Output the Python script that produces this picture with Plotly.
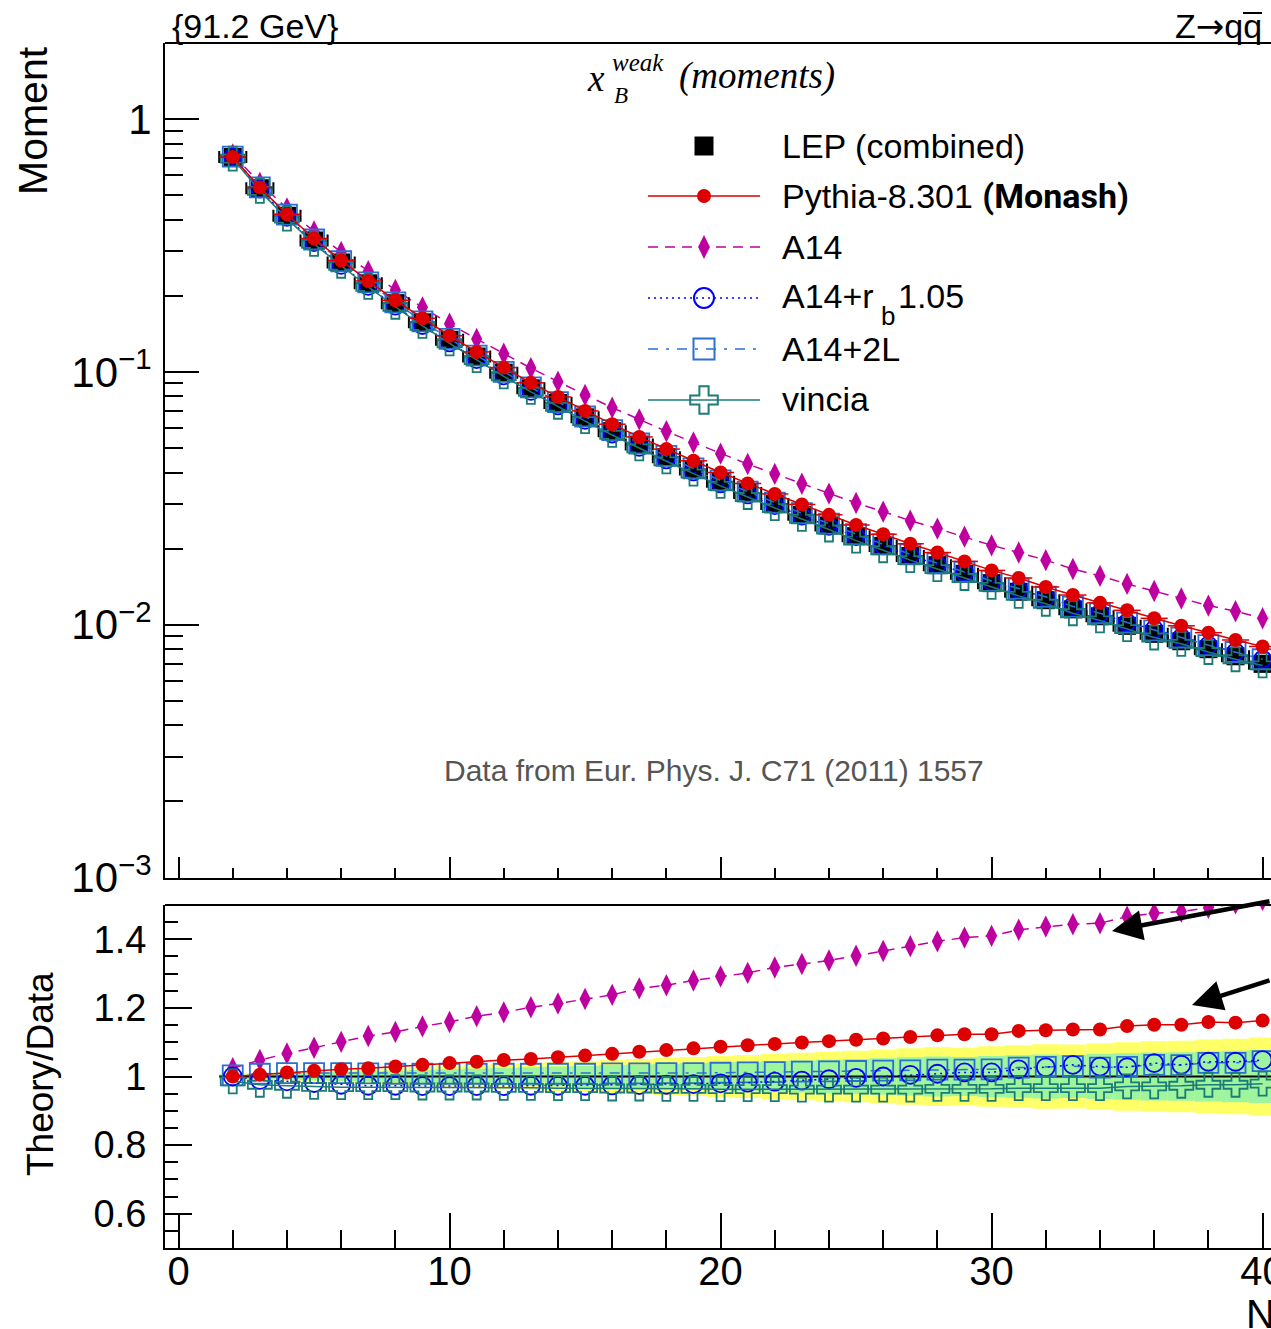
import plotly.graph_objects as go

# ---------------- data ----------------
N = list(range(2, 41))

lep = [0.708, 0.533, 0.415, 0.331, 0.271, 0.224, 0.187, 0.157, 0.134, 0.115,
       0.0993, 0.0861, 0.0754, 0.0661, 0.0583, 0.0516, 0.0460, 0.0411, 0.0368, 0.0332,
       0.0300, 0.0272, 0.0247, 0.0224, 0.0205, 0.0187, 0.0172, 0.0159, 0.0146, 0.0135,
       0.0125, 0.0115, 0.0108, 0.0099, 0.0092, 0.0086, 0.0080, 0.0075, 0.0070]

pythia = [0.708, 0.536, 0.420, 0.337, 0.276, 0.229, 0.192, 0.163, 0.139, 0.120,
          0.104, 0.0905, 0.0796, 0.0701, 0.0621, 0.0553, 0.0495, 0.0445, 0.0400, 0.0362,
          0.0329, 0.0299, 0.0272, 0.0248, 0.0228, 0.0209, 0.0193, 0.0178, 0.0164, 0.0153,
          0.0141, 0.0131, 0.0122, 0.0114, 0.0106, 0.0099, 0.0093, 0.0087, 0.0082]

a14 = [0.725, 0.559, 0.443, 0.359, 0.298, 0.250, 0.211, 0.180, 0.155, 0.135,
       0.118, 0.1035, 0.0915, 0.0810, 0.0722, 0.0649, 0.0582, 0.0526, 0.0475, 0.0432,
       0.0395, 0.0361, 0.0330, 0.0303, 0.0280, 0.0258, 0.0240, 0.0223, 0.0206, 0.0193,
       0.0180, 0.0166, 0.0156, 0.0145, 0.0136, 0.0127, 0.0119, 0.0113, 0.0106]

a14_rb = [0.708, 0.528, 0.409, 0.325, 0.264, 0.218, 0.182, 0.1526, 0.1302, 0.1118,
          0.0965, 0.0838, 0.0734, 0.0643, 0.0568, 0.0503, 0.0449, 0.0402, 0.0361, 0.0326,
          0.0296, 0.0269, 0.0245, 0.0223, 0.0205, 0.0188, 0.0173, 0.0161, 0.0148, 0.0138,
          0.0128, 0.0119, 0.0111, 0.0102, 0.0096, 0.0089, 0.0083, 0.0078, 0.0073]

a14_2l = [0.710, 0.537, 0.419, 0.334, 0.274, 0.226, 0.1885, 0.1583, 0.1351, 0.1159,
          0.1001, 0.0868, 0.0760, 0.0666, 0.0588, 0.0521, 0.0465, 0.0415, 0.0372, 0.0336,
          0.0304, 0.0276, 0.0251, 0.0228, 0.0208, 0.0190, 0.0175, 0.0162, 0.0149, 0.0139,
          0.0129, 0.0118, 0.0111, 0.0102, 0.0095, 0.0089, 0.0083, 0.0078, 0.0073]

vincia = [0.698, 0.520, 0.404, 0.321, 0.263, 0.217, 0.181, 0.152, 0.1297, 0.1113,
          0.0960, 0.0833, 0.0728, 0.0639, 0.0563, 0.0498, 0.0443, 0.0396, 0.0354, 0.0320,
          0.0289, 0.0262, 0.0238, 0.0215, 0.0197, 0.0180, 0.0166, 0.0153, 0.0141, 0.0130,
          0.0121, 0.0111, 0.0104, 0.0096, 0.0089, 0.0084, 0.0078, 0.0073, 0.0069]

r_pythia = [1.000, 1.005, 1.012, 1.017, 1.021, 1.024, 1.029, 1.034, 1.039, 1.043,
            1.048, 1.051, 1.056, 1.061, 1.066, 1.072, 1.077, 1.082, 1.087, 1.091,
            1.095, 1.099, 1.103, 1.107, 1.111, 1.115, 1.120, 1.123, 1.123, 1.133,
            1.135, 1.137, 1.137, 1.147, 1.151, 1.151, 1.159, 1.157, 1.163]

r_a14 = [1.024, 1.048, 1.067, 1.084, 1.101, 1.118, 1.130, 1.146, 1.159, 1.176,
         1.187, 1.202, 1.213, 1.226, 1.238, 1.257, 1.266, 1.280, 1.292, 1.302,
         1.318, 1.328, 1.338, 1.352, 1.366, 1.380, 1.394, 1.405, 1.410, 1.428,
         1.437, 1.444, 1.447, 1.466, 1.476, 1.481, 1.492, 1.505, 1.515]

r_a14_rb = [1.000, 0.990, 0.986, 0.981, 0.976, 0.973, 0.973, 0.972, 0.972, 0.972,
            0.972, 0.973, 0.973, 0.973, 0.974, 0.975, 0.976, 0.978, 0.980, 0.982,
            0.985, 0.988, 0.992, 0.996, 1.000, 1.005, 1.008, 1.012, 1.012, 1.021,
            1.027, 1.034, 1.029, 1.027, 1.039, 1.034, 1.043, 1.043, 1.048]

r_a14_2l = [1.003, 1.008, 1.010, 1.010, 1.010, 1.009, 1.008, 1.008, 1.008, 1.008,
            1.008, 1.008, 1.008, 1.008, 1.009, 1.009, 1.010, 1.010, 1.011, 1.012,
            1.013, 1.014, 1.015, 1.016, 1.017, 1.018, 1.020, 1.020, 1.021, 1.026,
            1.028, 1.030, 1.026, 1.028, 1.034, 1.033, 1.040, 1.040, 1.045]

r_vincia = [0.986, 0.976, 0.973, 0.970, 0.969, 0.969, 0.969, 0.968, 0.968, 0.968,
            0.967, 0.967, 0.966, 0.966, 0.965, 0.965, 0.964, 0.964, 0.963, 0.963,
            0.963, 0.962, 0.962, 0.962, 0.962, 0.962, 0.964, 0.964, 0.964, 0.966,
            0.966, 0.966, 0.966, 0.971, 0.971, 0.973, 0.976, 0.976, 0.979]

# half-widths of the data uncertainty bands in the ratio panel
band_total = [0.008, 0.010, 0.012, 0.015, 0.018, 0.021, 0.024, 0.027, 0.030, 0.033,
              0.036, 0.039, 0.042, 0.045, 0.048, 0.051, 0.054, 0.057, 0.060, 0.063,
              0.066, 0.069, 0.072, 0.075, 0.078, 0.082, 0.086, 0.084, 0.088, 0.091,
              0.094, 0.093, 0.097, 0.100, 0.103, 0.104, 0.108, 0.110, 0.114]
band_stat = [0.005, 0.007, 0.009, 0.011, 0.013, 0.015, 0.017, 0.019, 0.021, 0.023,
             0.025, 0.027, 0.029, 0.031, 0.033, 0.035, 0.037, 0.039, 0.041, 0.043,
             0.045, 0.047, 0.049, 0.051, 0.053, 0.056, 0.058, 0.057, 0.060, 0.062,
             0.064, 0.063, 0.066, 0.068, 0.070, 0.071, 0.073, 0.075, 0.077]

upper_ticks = [1e-3, 1e-2, 1e-1, 1]
upper_ticktext = ["10<sup>\u22123</sup>", "10<sup>\u22122</sup>", "10<sup>\u22121</sup>", "1"]
lower_ticks = [0.6, 0.8, 1.0, 1.2, 1.4]
lower_ticktext = ["0.6", "0.8", "1", "1.2", "1.4"]

# ---------------- geometry / style ----------------
W, H = 1271, 1329
L, R, T, B = 165, 0, 43, 81
PW, PH = W - L - R, H - T - B


def px(x):
    return (x - L) / PW


def py(y):
    return (H - B - y) / PH


FONT = "Liberation Sans, Arial, sans-serif"
SERIF = "Liberation Serif, Times New Roman, serif"
RED = "#dd0000"
MAG = "#bf00a0"
BLUE = "#0000ff"
AZ = "#2a6fd3"
TEAL = "#1b7b76"
YEL = "#ffff66"
GRN = "#9ef59e"
XR = [-0.5, 40.31]

fig = go.Figure()

# ---------------- upper panel ----------------
fig.add_trace(go.Scatter(x=N, y=a14, mode="lines+markers", xaxis="x", yaxis="y",
                         line=dict(color=MAG, width=1.5, dash="10px,7px"),
                         marker=dict(symbol="diamond-tall", size=16, color=MAG)))
fig.add_trace(go.Scatter(x=N, y=lep, mode="markers", xaxis="x", yaxis="y",
                         marker=dict(symbol="square", size=18, color="black"),
                         error_x=dict(type="constant", value=0.5, color="black",
                                      thickness=2, width=6)))
fig.add_trace(go.Scatter(x=N, y=a14_rb, mode="lines+markers", xaxis="x", yaxis="y",
                         line=dict(color=BLUE, width=1.5, dash="2px,4px"),
                         marker=dict(symbol="circle-open", size=17, color=BLUE,
                                     line=dict(width=1.8, color=BLUE))))
fig.add_trace(go.Scatter(x=N, y=a14_2l, mode="lines+markers", xaxis="x", yaxis="y",
                         line=dict(color=AZ, width=1.5, dash="10px,8px,3px,8px"),
                         marker=dict(symbol="square-open", size=20, color=AZ,
                                     line=dict(width=1.8, color=AZ))))
fig.add_trace(go.Scatter(x=N, y=vincia, mode="lines+markers", xaxis="x", yaxis="y",
                         line=dict(color=TEAL, width=1.5),
                         marker=dict(symbol="cross-open", size=20, color=TEAL,
                                     line=dict(width=1.8, color=TEAL))))
fig.add_trace(go.Scatter(x=N, y=pythia, mode="lines+markers", xaxis="x", yaxis="y",
                         line=dict(color=RED, width=1.5),
                         marker=dict(symbol="circle", size=14, color=RED),
                         error_x=dict(type="constant", value=0.5, color=RED,
                                      thickness=1.5, width=0)))

# ---------------- ratio panel ----------------
fig.add_trace(go.Bar(x=N, y=[2 * e for e in band_total], base=[1 - e for e in band_total],
                     width=1.0, marker=dict(color=YEL, line=dict(width=0)),
                     xaxis="x2", yaxis="y2"))
fig.add_trace(go.Bar(x=N, y=[2 * e for e in band_stat], base=[1 - e for e in band_stat],
                     width=1.0, marker=dict(color=GRN, line=dict(width=0)),
                     xaxis="x2", yaxis="y2"))
line_x = [N[0] - 0.5] + N + [N[-1] + 0.5]
fig.add_trace(go.Scatter(x=line_x, y=[1.0] * len(line_x), mode="lines", xaxis="x2", yaxis="y2",
                         line=dict(color="black", width=2)))
fig.add_trace(go.Scatter(x=N, y=r_a14, mode="lines+markers", xaxis="x2", yaxis="y2",
                         line=dict(color=MAG, width=1.5, dash="10px,7px"),
                         marker=dict(symbol="diamond-tall", size=16, color=MAG)))
fig.add_trace(go.Scatter(x=N, y=r_a14_2l, mode="lines+markers", xaxis="x2", yaxis="y2",
                         line=dict(color=AZ, width=1.5, dash="10px,8px,3px,8px"),
                         marker=dict(symbol="square-open", size=20, color=AZ,
                                     line=dict(width=1.8, color=AZ))))
fig.add_trace(go.Scatter(x=N, y=r_a14_rb, mode="lines+markers", xaxis="x2", yaxis="y2",
                         line=dict(color=BLUE, width=1.5, dash="2px,4px"),
                         marker=dict(symbol="circle-open", size=18, color=BLUE,
                                     line=dict(width=1.8, color=BLUE))))
fig.add_trace(go.Scatter(x=N, y=r_vincia, mode="lines+markers", xaxis="x2", yaxis="y2",
                         line=dict(color=TEAL, width=1.5),
                         marker=dict(symbol="cross-open", size=20, color=TEAL,
                                     line=dict(width=1.8, color=TEAL))))
fig.add_trace(go.Scatter(x=N, y=r_pythia, mode="lines+markers", xaxis="x2", yaxis="y2",
                         line=dict(color=RED, width=1.5),
                         marker=dict(symbol="circle", size=14, color=RED)))

# ---------------- legend (drawn on a pixel-mapped helper axis) ----------------
leg = [
    (146, None, "square", 19, "black", None, 0),
    (196, "solid", "circle", 14, RED, RED, 0),
    (247, "10px,7px", "diamond-tall", 17, MAG, MAG, 0),
    (298, "2px,4px", "circle-open", 20, BLUE, BLUE, 2),
    (349, "10px,8px,3px,8px", "square-open", 21, AZ, AZ, 2),
    (400, "solid", "cross-open", 23, TEAL, TEAL, 2),
]
for yy, dash, sym, size, col, lcol, mlw in leg:
    if dash is not None:
        fig.add_trace(go.Scatter(x=[648, 760], y=[yy, yy], mode="lines", xaxis="x3", yaxis="y3",
                                 line=dict(color=lcol, width=1.5, dash=dash)))
    fig.add_trace(go.Scatter(x=[704], y=[yy], mode="markers", xaxis="x3", yaxis="y3",
                             marker=dict(symbol=sym, size=size, color=col,
                                         line=dict(width=mlw, color=col))))


def txt(text, x, y, size, xanchor="left", yanchor="middle", color="black",
        family=FONT, angle=0):
    fig.add_annotation(text=text, x=px(x), y=py(y), xref="paper", yref="paper",
                       showarrow=False, xanchor=xanchor, yanchor=yanchor,
                       font=dict(size=size, color=color, family=family),
                       textangle=angle)


leg_text = [
    (146, "LEP (combined)"),
    (196, "Pythia-8.301 <span style=\"font-family:Roboto;font-weight:bold\">(Monash)</span>"),
    (247, "A14"),
    (296, "A14+r"),
    (349, "A14+2L"),
    (399, "vincia"),
]
for yy, t in leg_text:
    txt(t, 780, yy, 34)
txt("b", 879, 316, 26)
txt("1.05", 896, 296, 34)

# ---------------- titles / labels ----------------
txt("{91.2 GeV}", 170, 26, 34)
txt("Z<span style=\"font-family:DejaVu Sans\">\u2192</span>qq", 1264, 26, 34, xanchor="right")
fig.add_shape(type="line", xref="paper", yref="paper", x0=px(1243), x1=px(1262),
              y0=py(13), y1=py(13), line=dict(color="black", width=2))
txt("<i>x</i>", 596, 78, 37, xanchor="center", family=SERIF)
txt("<i>weak</i>", 610, 62, 25, family=SERIF)
txt("<i>B</i>", 612, 96, 23, family=SERIF)
txt("<i>(moments)</i>", 677, 76, 37, family=SERIF)
txt("Data from Eur. Phys. J. C71 (2011) 1557", 714, 770, 30, xanchor="center", color="#555555")
txt("Moment", 33, 121, 41, xanchor="center", angle=-90)
txt("Theory/Data", 40, 1074, 37, xanchor="center", angle=-90)
txt("N", 1244, 1314, 40)

# arrows entering from the right
fig.add_annotation(x=px(1112), y=py(931), xref="paper", yref="paper", text="",
                   showarrow=True, ax=190, ay=-30, arrowhead=2, arrowsize=1.35,
                   arrowwidth=4.5, arrowcolor="black", standoff=0)
fig.add_annotation(x=px(1192), y=py(1005), xref="paper", yref="paper", text="",
                   showarrow=True, ax=110, ay=-25, arrowhead=2, arrowsize=1.35,
                   arrowwidth=4.5, arrowcolor="black", standoff=0)

# top frame lines
up_bot = py(877.5)
lo_top = py(905)
fig.add_shape(type="line", xref="paper", yref="paper", x0=0, x1=1.01, y0=1, y1=1,
              line=dict(color="black", width=2))
fig.add_shape(type="line", xref="paper", yref="paper", x0=0, x1=1.01, y0=lo_top, y1=lo_top,
              line=dict(color="black", width=2))

minor_log = [m * 10 ** e for e in (-3, -2, -1) for m in range(2, 10)]

axx = dict(range=XR, showline=True, linecolor="black", linewidth=2, ticks="inside",
           tickcolor="black", tickwidth=1.6, tick0=0, dtick=10, showgrid=False,
           zeroline=False, automargin=False)

fig.update_layout(
    width=W, height=H, autosize=False,
    margin=dict(l=L, r=R, t=T, b=B, pad=0),
    paper_bgcolor="white", plot_bgcolor="rgba(0,0,0,0)",
    showlegend=False, barmode="overlay",
    font=dict(family=FONT, color="black"),
    xaxis=dict(**axx, domain=[0, 1], anchor="y", ticklen=21, showticklabels=False,
               minor=dict(ticks="inside", tick0=0, dtick=2, ticklen=10, tickcolor="black",
                          tickwidth=1.6, showgrid=False)),
    yaxis=dict(type="log", range=[-3, 0.301], domain=[up_bot, 1], anchor="x",
               showline=True, linecolor="black", linewidth=2, ticks="inside", ticklen=34,
               tickwidth=1.6, tickcolor="black", tickmode="array", tickvals=upper_ticks,
               ticktext=upper_ticktext, tickfont=dict(size=42, family=FONT),
               minor=dict(ticks="inside", tickmode="array", tickvals=minor_log, ticklen=18,
                          tickcolor="black", tickwidth=1.6, showgrid=False),
               showgrid=False, zeroline=False, automargin=False, ticklabelstandoff=3,
               ticklabeloverflow="allow"),
    xaxis2=dict(**axx, domain=[0, 1], anchor="y2", ticklen=35,
                tickfont=dict(size=40, family=FONT), ticklabelstandoff=-13,
                ticklabeloverflow="allow",
                minor=dict(ticks="inside", tick0=0, dtick=2, ticklen=18, tickcolor="black",
                           tickwidth=1.6, showgrid=False)),
    yaxis2=dict(range=[0.5, 1.5], domain=[0, lo_top], anchor="x2", showline=True,
                linecolor="black", linewidth=2, ticks="inside", ticklen=27, tickwidth=1.6,
                tickcolor="black", tickmode="array", tickvals=lower_ticks,
                ticktext=lower_ticktext, tickfont=dict(size=38, family=FONT),
                minor=dict(ticks="inside", tick0=0.5, dtick=0.05, ticklen=13,
                           tickcolor="black", tickwidth=1.6, showgrid=False),
                showgrid=False, zeroline=False, automargin=False, ticklabelstandoff=9,
                ticklabeloverflow="allow"),
    xaxis3=dict(domain=[0, 1], range=[L, W], anchor="y3", visible=False, fixedrange=True),
    yaxis3=dict(domain=[0, 1], range=[H - B, T], anchor="x3", visible=False, fixedrange=True),
)

fig.write_html("out.html",
               config={"displayModeBar": False},
               post_script="document.body.style.margin='0px';"
                           "document.body.style.padding='0px';"
                           "document.body.style.overflow='hidden';"
                           "document.documentElement.style.overflow='hidden';")
